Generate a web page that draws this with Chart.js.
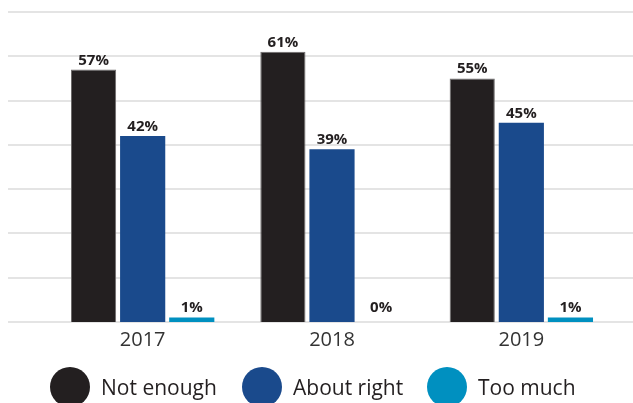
<!DOCTYPE html>
<html>
<head>
<meta charset="utf-8">
<script src="https://cdn.jsdelivr.net/npm/chart.js@4/dist/chart.umd.min.js"></script>
<style>
  html, body { margin: 0; padding: 0; background: #fff; }
  .wrap { position: relative; width: 633px; height: 403px; overflow: hidden; }
  .legend { position: absolute; left: 0; top: 367px; width: 633px; height: 40px;
            font-family: 'Open Sans', sans-serif; font-size: 21px; color: #231f20; }
  .legend-item { position: absolute; top: 0; display: flex; align-items: center; height: 40px; }
  .legend-dot { width: 40px; height: 40px; border-radius: 50%; margin-right: 11px; }
</style>
</head>
<body>
<div class="wrap">
  <canvas id="chart" width="633" height="403"></canvas>
  <div class="legend" id="legend"></div>
</div>
<script>
const years      = ['2017', '2018', '2019'];
const seriesNames = ['Not enough', 'About right', 'Too much'];
const notEnough  = [57, 61, 55];
const aboutRight = [42, 39, 45];
const tooMuch    = [1, 0, 1];
const colors     = ['#231f20', '#1a4a8c', '#0090c0'];
const yTicks     = [0, 10, 20, 30, 40, 50, 60, 70];

// horizontal grid across the full width, like the original
const wideGrid = {
  id: 'wideGrid',
  beforeDatasetsDraw(chart) {
    const { ctx, scales: { y } } = chart;
    ctx.save();
    ctx.strokeStyle = '#e4e4e4';
    ctx.lineWidth = 2;
    yTicks.forEach(v => {
      const py = Math.round(y.getPixelForValue(v));
      ctx.beginPath();
      ctx.moveTo(8, py);
      ctx.lineTo(chart.width, py);
      ctx.stroke();
    });
    ctx.restore();
  },
};

const valueLabels = {
  id: 'valueLabels',
  afterDatasetsDraw(chart) {
    const { ctx } = chart;
    ctx.save();
    ctx.font = "bold 15px 'Open Sans'";
    ctx.fillStyle = '#231f20';
    ctx.textAlign = 'center';
    ctx.textBaseline = 'alphabetic';
    chart.data.datasets.forEach((ds, i) => {
      chart.getDatasetMeta(i).data.forEach((el, j) => {
        const top = Math.min(el.y, el.base - 5);
        ctx.fillText(ds.data[j] + '%', el.x, top - 5);
      });
    });
    ctx.restore();
  },
};

const barStyle = { categoryPercentage: 0.778, barPercentage: 0.92 };

new Chart(document.getElementById('chart').getContext('2d'), {
  type: 'bar',
  data: {
    labels: years,
    datasets: [
      { label: seriesNames[0], data: notEnough,  backgroundColor: colors[0], borderColor: '#6f6c6c', borderWidth: 1, ...barStyle },
      { label: seriesNames[1], data: aboutRight, backgroundColor: colors[1], ...barStyle },
      { label: seriesNames[2], data: tooMuch,    backgroundColor: colors[2], ...barStyle },
    ],
  },
  options: {
    responsive: false, animation: false,
    layout: { padding: { left: 48, right: 17, top: 12, bottom: 45 } },
    plugins: { legend: { display: false }, tooltip: { enabled: false } },
    scales: {
      x: {
        grid: { display: false, drawTicks: false }, border: { display: false },
        ticks: { color: '#333', padding: 6, font: { family: "'Open Sans'", size: 20 } },
      },
      y: { display: false, min: 0, max: 70, ticks: { stepSize: 10 } },
    },
  },
  plugins: [wideGrid, valueLabels],
});

const legendLeft = [50, 242, 427];
document.getElementById('legend').innerHTML = seriesNames.map((n, i) => `
  <div class="legend-item" style="left:${legendLeft[i]}px">
    <div class="legend-dot" style="background:${colors[i]}"></div>${n}
  </div>`).join('');
</script>
</body>
</html>
